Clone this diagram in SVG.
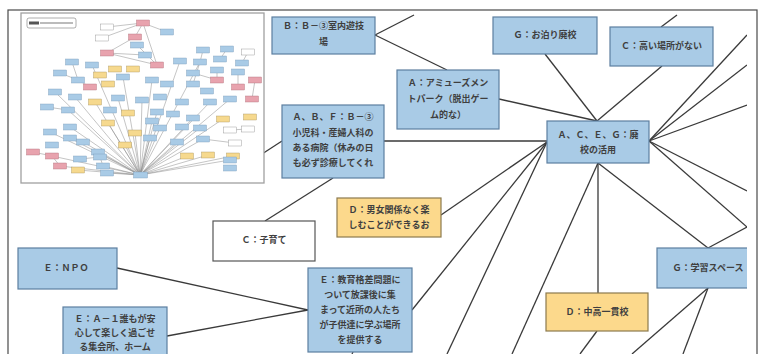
<svg xmlns="http://www.w3.org/2000/svg" width="762" height="354" viewBox="0 0 762 354">
<defs>
<style>
.nb{fill:#a9cbe6;stroke:#5d7fa0;stroke-width:1.2}
.ny{fill:#fcd98c;stroke:#8c7a4e;stroke-width:1.2}
.nw{fill:#ffffff;stroke:#555;stroke-width:1.2}
.t{font-family:"Noto Sans CJK JP","Noto Sans",sans-serif;font-size:9px;font-weight:bold;fill:#3f3f3f;text-anchor:middle}
.cn line,.cn polyline{stroke:#3a3a3a;stroke-width:1.3;fill:none}
.tl line{stroke:#8a8a8a;stroke-width:0.5}
.tb{fill:#a9cbe6;stroke:#7b9bb8;stroke-width:0.4}
.ty{fill:#f6d98e;stroke:#a8935c;stroke-width:0.4}
.tp{fill:#e8a3ae;stroke:#b06f7a;stroke-width:0.4}
.tw{fill:#ffffff;stroke:#888;stroke-width:0.4}
</style>
<clipPath id="clip"><rect x="9" y="11" width="738" height="343"/></clipPath>
</defs>
<rect width="762" height="354" fill="#ffffff"/>
<rect x="8" y="10" width="749" height="360" fill="none" stroke="#4a4a4a" stroke-width="1.2"/>
<g clip-path="url(#clip)">
<g id="connectors" class="cn">
<line x1="375" y1="35" x2="414" y2="15"/>
<line x1="375" y1="35" x2="447" y2="70"/>
<line x1="499" y1="99" x2="597" y2="121"/>
<line x1="545" y1="54" x2="597" y2="121"/>
<line x1="662" y1="66" x2="597" y2="121"/>
<line x1="661" y1="27" x2="677" y2="15"/>
<line x1="649" y1="141" x2="747" y2="35"/>
<line x1="649" y1="141" x2="747" y2="65"/>
<line x1="649" y1="141" x2="747" y2="105"/>
<line x1="649" y1="141" x2="747" y2="191"/>
<line x1="649" y1="141" x2="747" y2="227"/>
<line x1="747" y1="227" x2="708" y2="248"/>
<line x1="598" y1="163" x2="708" y2="248"/>
<line x1="598" y1="163" x2="598" y2="293"/>
<line x1="598" y1="163" x2="512" y2="354"/>
<line x1="547" y1="142" x2="447" y2="354"/>
<line x1="547" y1="142" x2="412" y2="310"/>
<line x1="547" y1="142" x2="441" y2="215"/>
<line x1="384" y1="141" x2="547" y2="141"/>
<line x1="282" y1="141" x2="262" y2="154"/>
<line x1="333" y1="178" x2="265" y2="221"/>
<line x1="117" y1="268" x2="308" y2="310"/>
<line x1="167" y1="336" x2="308" y2="310"/>
<line x1="597" y1="331" x2="580" y2="354"/>
<line x1="708" y1="288" x2="632" y2="354"/>
<line x1="708" y1="288" x2="683" y2="354"/>
<line x1="353" y1="352" x2="352" y2="354"/>
</g>
<g id="thumbnail">
<rect x="21" y="13" width="243" height="170" fill="#ffffff" stroke="#a0a0a0" stroke-width="1.3"/>
<rect x="27" y="18" width="49" height="10" rx="2" fill="#fff" stroke="#777" stroke-width="0.6"/>
<rect x="29" y="21.5" width="10" height="3" fill="#555"/>
<rect x="40" y="22" width="33" height="2" fill="#bbb"/>
<g class="tl">
<line x1="140" y1="175" x2="52" y2="156"/><line x1="140" y1="175" x2="60" y2="166"/><line x1="140" y1="175" x2="78" y2="170"/>
<line x1="140" y1="175" x2="98" y2="152"/><line x1="140" y1="175" x2="103" y2="166"/><line x1="140" y1="175" x2="107" y2="173"/>
<line x1="140" y1="175" x2="70" y2="138"/><line x1="140" y1="175" x2="83" y2="142"/><line x1="140" y1="175" x2="50" y2="132"/>
<line x1="140" y1="175" x2="70" y2="127"/><line x1="140" y1="175" x2="55" y2="92"/><line x1="140" y1="175" x2="75" y2="97"/>
<line x1="140" y1="175" x2="68" y2="110"/><line x1="140" y1="175" x2="95" y2="102"/><line x1="140" y1="175" x2="108" y2="123"/>
<line x1="140" y1="175" x2="125" y2="145"/><line x1="140" y1="175" x2="135" y2="133"/><line x1="140" y1="175" x2="118" y2="98"/>
<line x1="140" y1="175" x2="142" y2="100"/><line x1="140" y1="175" x2="152" y2="121"/><line x1="140" y1="175" x2="150" y2="138"/>
<line x1="140" y1="175" x2="160" y2="128"/><line x1="140" y1="175" x2="177" y2="142"/><line x1="140" y1="175" x2="200" y2="128"/>
<line x1="140" y1="175" x2="203" y2="139"/><line x1="140" y1="175" x2="193" y2="118"/><line x1="140" y1="175" x2="210" y2="102"/>
<line x1="140" y1="175" x2="230" y2="99"/><line x1="140" y1="175" x2="223" y2="119"/><line x1="140" y1="175" x2="187" y2="156"/>
<line x1="140" y1="175" x2="208" y2="155"/><line x1="140" y1="175" x2="233" y2="156"/><line x1="140" y1="175" x2="230" y2="160"/>
<line x1="140" y1="175" x2="92" y2="65"/><line x1="140" y1="175" x2="123" y2="77"/><line x1="140" y1="175" x2="152" y2="80"/>
<line x1="140" y1="175" x2="180" y2="61"/><line x1="140" y1="175" x2="200" y2="62"/><line x1="140" y1="175" x2="157" y2="112"/>
<line x1="143" y1="23" x2="107" y2="27"/><line x1="143" y1="23" x2="102" y2="38"/><line x1="143" y1="23" x2="167" y2="32"/>
<line x1="143" y1="23" x2="135" y2="37"/><line x1="143" y1="23" x2="157" y2="65"/><line x1="107" y1="53" x2="157" y2="65"/>
<line x1="107" y1="53" x2="135" y2="37"/><line x1="137" y1="45" x2="157" y2="65"/><line x1="145" y1="55" x2="107" y2="53"/>
<line x1="203" y1="50" x2="200" y2="62"/><line x1="227" y1="49" x2="220" y2="59"/><line x1="248" y1="52" x2="242" y2="63"/>
<line x1="217" y1="70" x2="217" y2="80"/><line x1="238" y1="72" x2="238" y2="87"/><line x1="255" y1="80" x2="252" y2="99"/>
<line x1="193" y1="73" x2="217" y2="80"/><line x1="200" y1="62" x2="193" y2="84"/><line x1="72" y1="62" x2="78" y2="80"/>
<line x1="60" y1="73" x2="78" y2="80"/><line x1="78" y1="80" x2="90" y2="87"/><line x1="47" y1="107" x2="68" y2="110"/>
<line x1="33" y1="152" x2="52" y2="156"/><line x1="52" y1="156" x2="60" y2="166"/><line x1="80" y1="159" x2="100" y2="157"/>
<line x1="100" y1="157" x2="103" y2="166"/><line x1="230" y1="130" x2="248" y2="129"/><line x1="235" y1="143" x2="203" y2="139"/>
</g>
<g transform="translate(-6.5,-3)">
<rect class="tp" x="143" y="23" width="13" height="6"/><rect class="tp" x="135" y="37" width="13" height="6"/>
<rect class="tp" x="107" y="53" width="13" height="6"/><rect class="tp" x="157" y="65" width="13" height="6"/>
<rect class="tp" x="90" y="87" width="13" height="6"/><rect class="tp" x="217" y="80" width="13" height="6"/>
<rect class="tp" x="255" y="80" width="13" height="6"/><rect class="tp" x="238" y="87" width="13" height="6"/>
<rect class="tp" x="252" y="99" width="13" height="6"/><rect class="tp" x="33" y="152" width="13" height="6"/>
<rect class="tp" x="52" y="156" width="13" height="6"/><rect class="tp" x="60" y="166" width="13" height="6"/>
<rect class="tw" x="107" y="27" width="13" height="6"/><rect class="tw" x="102" y="38" width="13" height="6"/>
<rect class="tw" x="248" y="52" width="13" height="6"/><rect class="tw" x="230" y="130" width="13" height="6"/>
<rect class="tw" x="248" y="129" width="13" height="6"/><rect class="tw" x="235" y="143" width="13" height="6"/>
<rect class="ty" x="115" y="69" width="13" height="6"/><rect class="ty" x="133" y="69" width="13" height="6"/>
<rect class="ty" x="100" y="75" width="13" height="6"/><rect class="ty" x="108" y="84" width="13" height="6"/>
<rect class="ty" x="95" y="102" width="13" height="6"/><rect class="ty" x="128" y="113" width="13" height="6"/>
<rect class="ty" x="108" y="123" width="13" height="6"/><rect class="ty" x="135" y="133" width="13" height="6"/>
<rect class="ty" x="125" y="145" width="13" height="6"/><rect class="ty" x="223" y="119" width="13" height="6"/>
<rect class="ty" x="250" y="117" width="13" height="6"/><rect class="ty" x="187" y="156" width="13" height="6"/>
<rect class="ty" x="208" y="155" width="13" height="6"/><rect class="ty" x="233" y="156" width="13" height="6"/>
<rect class="ty" x="78" y="170" width="13" height="6"/>
<rect class="tb" x="167" y="32" width="13" height="6"/><rect class="tb" x="137" y="45" width="13" height="6"/>
<rect class="tb" x="145" y="55" width="13" height="6"/><rect class="tb" x="72" y="62" width="13" height="6"/>
<rect class="tb" x="92" y="65" width="13" height="6"/><rect class="tb" x="60" y="73" width="13" height="6"/>
<rect class="tb" x="78" y="80" width="13" height="6"/><rect class="tb" x="123" y="77" width="13" height="6"/>
<rect class="tb" x="152" y="80" width="13" height="6"/><rect class="tb" x="180" y="61" width="13" height="6"/>
<rect class="tb" x="203" y="50" width="13" height="6"/><rect class="tb" x="200" y="62" width="13" height="6"/>
<rect class="tb" x="227" y="49" width="13" height="6"/><rect class="tb" x="220" y="59" width="13" height="6"/>
<rect class="tb" x="242" y="63" width="13" height="6"/><rect class="tb" x="217" y="70" width="13" height="6"/>
<rect class="tb" x="238" y="72" width="13" height="6"/><rect class="tb" x="193" y="73" width="13" height="6"/>
<rect class="tb" x="167" y="84" width="13" height="6"/><rect class="tb" x="193" y="84" width="13" height="6"/>
<rect class="tb" x="207" y="91" width="13" height="6"/><rect class="tb" x="55" y="92" width="13" height="6"/>
<rect class="tb" x="75" y="97" width="13" height="6"/><rect class="tb" x="118" y="98" width="13" height="6"/>
<rect class="tb" x="142" y="100" width="13" height="6"/><rect class="tb" x="160" y="97" width="13" height="6"/>
<rect class="tb" x="182" y="102" width="13" height="6"/><rect class="tb" x="210" y="102" width="13" height="6"/>
<rect class="tb" x="230" y="99" width="13" height="6"/><rect class="tb" x="47" y="107" width="13" height="6"/>
<rect class="tb" x="68" y="110" width="13" height="6"/><rect class="tb" x="110" y="110" width="13" height="6"/>
<rect class="tb" x="157" y="112" width="13" height="6"/><rect class="tb" x="173" y="114" width="13" height="6"/>
<rect class="tb" x="193" y="118" width="13" height="6"/><rect class="tb" x="70" y="127" width="13" height="6"/>
<rect class="tb" x="152" y="121" width="13" height="6"/><rect class="tb" x="160" y="128" width="13" height="6"/>
<rect class="tb" x="200" y="128" width="13" height="6"/><rect class="tb" x="50" y="132" width="13" height="6"/>
<rect class="tb" x="70" y="138" width="13" height="6"/><rect class="tb" x="83" y="142" width="13" height="6"/>
<rect class="tb" x="52" y="145" width="13" height="6"/><rect class="tb" x="150" y="138" width="13" height="6"/>
<rect class="tb" x="177" y="142" width="13" height="6"/><rect class="tb" x="203" y="139" width="13" height="6"/>
<rect class="tb" x="98" y="152" width="13" height="6"/><rect class="tb" x="80" y="159" width="13" height="6"/>
<rect class="tb" x="100" y="157" width="13" height="6"/><rect class="tb" x="103" y="166" width="13" height="6"/>
<rect class="tb" x="107" y="173" width="13" height="6"/><rect class="tb" x="230" y="160" width="13" height="6"/>
<rect class="tb" x="230" y="168" width="13" height="6"/><rect class="tb" x="182" y="127" width="13" height="6"/>
<rect class="tb" x="140" y="175" width="14" height="6"/>
</g>
</g>
<g id="nB"><rect class="nb" x="272" y="17" width="103" height="37"/><text class="t" x="323.5" y="29">Ｂ：Ｂ－③室内遊技</text><text class="t" x="323.5" y="45">場</text></g>
<g id="nA"><rect class="nb" x="397" y="70" width="102" height="59"/><text class="t" x="448" y="86">Ａ：アミューズメン</text><text class="t" x="448" y="102">トパーク（脱出ゲー</text><text class="t" x="448" y="118">ム的な）</text></g>
<g id="nG1"><rect class="nb" x="493" y="17" width="104" height="37"/><text class="t" x="545" y="38">Ｇ：お泊り廃校</text></g>
<g id="nC1"><rect class="nb" x="610" y="27" width="103" height="39"/><text class="t" x="661.5" y="49">Ｃ：高い場所がない</text></g>
<g id="nACEG"><rect class="nb" x="547" y="121" width="102" height="42"/><text class="t" x="598" y="138">Ａ、Ｃ、Ｅ、Ｇ：廃</text><text class="t" x="598" y="153">校の活用</text></g>
<g id="nABF"><rect class="nb" x="282" y="105" width="102" height="73"/><text class="t" x="333" y="120">Ａ、Ｂ、Ｆ：Ｂ－③</text><text class="t" x="333" y="136">小児科・産婦人科の</text><text class="t" x="333" y="151">ある病院（休みの日</text><text class="t" x="333" y="166">も必ず診療してくれ</text></g>
<g id="nD1"><rect class="ny" x="337" y="198" width="104" height="39"/><text class="t" x="389" y="213">Ｄ：男女関係なく楽</text><text class="t" x="389" y="228">しむことができるお</text></g>
<g id="nC2"><rect class="nw" x="213" y="221" width="102" height="40"/><text class="t" x="264" y="243">Ｃ：子育て</text></g>
<g id="nNPO"><rect class="nb" x="18" y="248" width="99" height="41"/><text class="t" x="66" y="271">Ｅ：ＮＰＯ</text></g>
<g id="nEA1"><rect class="nb" x="63" y="307" width="104" height="60"/><text class="t" x="115" y="322">Ｅ：Ａ－１誰もが安</text><text class="t" x="115" y="336">心して楽しく過ごせ</text><text class="t" x="115" y="350">る集会所、ホーム</text></g>
<g id="nE"><rect class="nb" x="308" y="268" width="104" height="84"/><text class="t" x="360" y="283">Ｅ：教育格差問題に</text><text class="t" x="360" y="298">ついて放課後に集</text><text class="t" x="360" y="313">まって近所の人たち</text><text class="t" x="360" y="328">が子供達に学ぶ場所</text><text class="t" x="360" y="343">を提供する</text></g>
<g id="nD2"><rect class="ny" x="546" y="293" width="102" height="38"/><text class="t" x="597" y="315">Ｄ：中高一貫校</text></g>
<g id="nG2"><rect class="nb" x="657" y="248" width="102" height="40"/><text class="t" x="708" y="271">Ｇ：学習スペース</text></g>
</g>
</svg>
